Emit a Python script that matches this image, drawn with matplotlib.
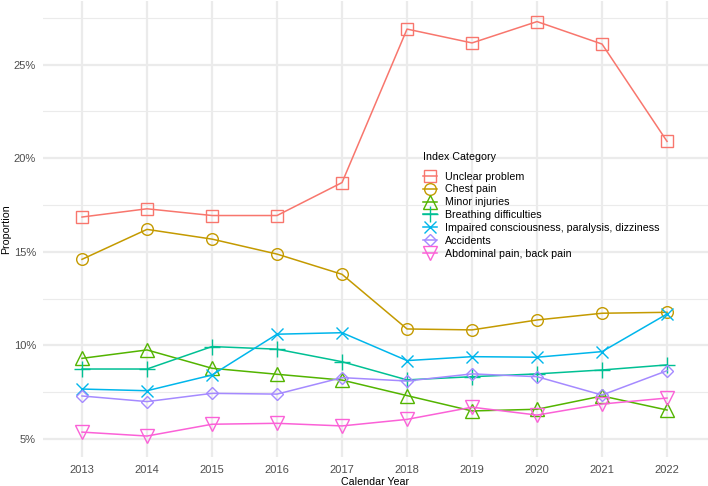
import matplotlib
matplotlib.use("Agg")
import matplotlib.pyplot as plt
from matplotlib.ticker import FuncFormatter, MultipleLocator

# ---- data (proportion, %) ----
years = [2013, 2014, 2015, 2016, 2017, 2018, 2019, 2020, 2021, 2022]
categories = ["Unclear problem", "Chest pain", "Minor injuries", "Breathing difficulties",
              "Impaired consciousness, paralysis, dizziness", "Accidents",
              "Abdominal pain, back pain"]
unclear = [16.86, 17.3, 16.94, 16.94, 18.7, 26.9, 26.16, 27.3, 26.1, 20.9]
chest = [14.6, 16.2, 15.68, 14.88, 13.8, 10.88, 10.83, 11.36, 11.72, 11.77]
minor = [9.31, 9.76, 8.78, 8.46, 8.15, 7.32, 6.5, 6.59, 7.3, 6.55]
breathing = [8.74, 8.74, 9.94, 9.8, 9.13, 8.16, 8.33, 8.48, 8.69, 8.96]
impaired = [7.67, 7.58, 8.42, 10.6, 10.68, 9.19, 9.4, 9.37, 9.67, 11.68]
accidents = [7.3, 7.0, 7.44, 7.4, 8.28, 8.1, 8.48, 8.33, 7.35, 8.65]
abdominal = [5.37, 5.16, 5.79, 5.84, 5.7, 6.05, 6.7, 6.28, 6.87, 7.19]
series = [unclear, chest, minor, breathing, impaired, accidents, abdominal]

colors = ["#F8766D", "#C49A00", "#53B400", "#00C094", "#00B6EB", "#A58AFF", "#FB61D7"]
markers = ["s", "o", "^", "+", "x", "D", "v"]
msizes = [8, 8.4, 9.4, 12, 8, 6.6, 10]

plt.rcParams["font.family"] = ["Liberation Sans", "DejaVu Sans"]
fs = 7.7

fig = plt.figure(figsize=(7.08, 4.86), dpi=100)
ax = fig.add_axes([43 / 708, 1 - 457 / 486, 665 / 708, 456 / 486])

for vals, name, c, m, ms in zip(series, categories, colors, markers, msizes):
    ax.plot(years, vals, color=c, lw=1.1, marker=m, markersize=ms,
            markerfacecolor="none", markeredgecolor=c, markeredgewidth=1.0,
            label=name)

ax.set_xlim(2012.4, 2022.63)
ax.set_ylim(4.04, 28.4)
ax.set_xticks(years)
ax.yaxis.set_major_locator(MultipleLocator(5))
ax.yaxis.set_minor_locator(MultipleLocator(2.5))
ax.yaxis.set_major_formatter(FuncFormatter(lambda v, p: f"{v:.0f}%"))

ax.grid(True, which="major", color="#EBEBEB", lw=1.6)
ax.grid(True, which="minor", axis="y", color="#EBEBEB", lw=0.8)
ax.set_axisbelow(True)
for s in ax.spines.values():
    s.set_visible(False)
ax.tick_params(which="both", length=0, labelsize=8, labelcolor="#4D4D4D")
ax.tick_params(axis="x", pad=6)
ax.tick_params(axis="y", pad=5)

ax.set_xlabel("Calendar Year", fontsize=fs, labelpad=1)
ax.set_ylabel("Proportion", fontsize=fs)
ax.yaxis.set_label_coords(-32 / 665, 0.5)

fig.text(423 / 708, 1 - 157 / 486, "Index Category", fontsize=fs, va="center", ha="left")
leg = ax.legend(loc="upper left",
                bbox_to_anchor=(423 / 708, 1 - 171.5 / 486), bbox_transform=fig.transFigure,
                frameon=False, fontsize=fs, labelspacing=0.27, borderpad=0,
                borderaxespad=0, handlelength=1.3, handletextpad=0.76)

fig.savefig("out.png", dpi=100)
